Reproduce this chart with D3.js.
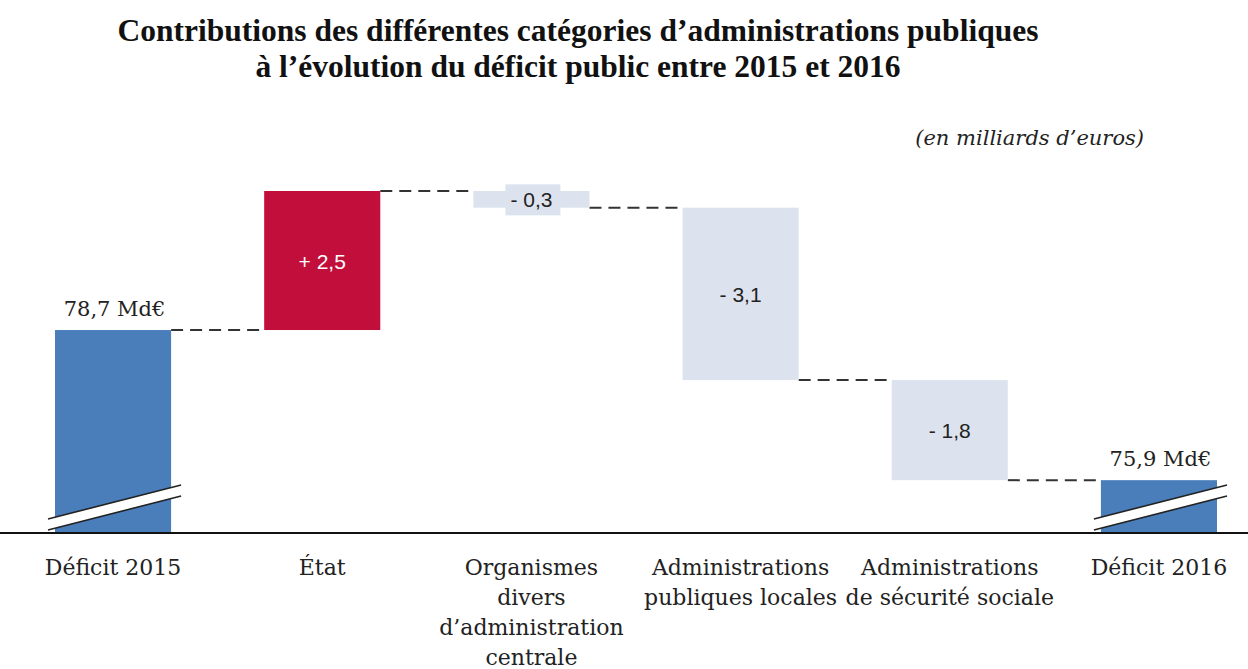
<!DOCTYPE html>
<html>
<head>
<meta charset="utf-8">
<script src="https://cdn.jsdelivr.net/npm/d3@7"></script>
<style>
  body { margin: 0; background: #fff; }
  svg { display: block; }
</style>
</head>
<body>
<svg width="1248" height="669"></svg>
<script>
// categories (label lines) and waterfall values
const categories = [
  ["Déficit 2015"],
  ["État"],
  ["Organismes", "divers", "d\u2019administration", "centrale"],
  ["Administrations", "publiques locales"],
  ["Administrations", "de sécurité sociale"],
  ["Déficit 2016"]
];
const startValue = 78.7;
const changes = [2.5, -0.3, -3.1, -1.8];
const changeLabels = ["+ 2,5", "- 0,3", "- 3,1", "- 1,8"];
const totalLabels = ["78,7 Md\u20ac", "75,9 Md\u20ac"];
const axisMin = 75.05;   // broken axis: bars are cut below this

const colTotal = "#4a7ebb", colUp = "#c20e3a", colDown = "#dde3ee";

const svg = d3.select("svg");
const W = 1248, H = 669, baseY = 533;

// build waterfall rows
let rows = [];
let level = startValue;
rows.push({ i: 0, y0: axisMin, y1: startValue, type: "total", label: totalLabels[0] });
changes.forEach((c, k) => {
  let next = level + c;
  rows.push({ i: k + 1, y0: level, y1: next, type: c > 0 ? "up" : "down", label: changeLabels[k] });
  level = next;
});
rows.push({ i: 5, y0: axisMin, y1: level, type: "total", label: totalLabels[1] });

const x = d3.scaleBand().domain(d3.range(categories.length))
  .range([55, 1217]).paddingInner(0.445).paddingOuter(0);
const y = d3.scaleLinear().domain([axisMin, 81.2]).range([baseY, 191]);
const bw = x.bandwidth();

// title
const title = svg.append("text").attr("x", 578).attr("text-anchor", "middle")
  .style("font-family", "'Liberation Serif', serif").style("font-weight", "bold")
  .style("font-size", "31.5px").attr("fill", "#111");
title.append("tspan").attr("x", 578).attr("y", 41)
  .text("Contributions des différentes catégories d\u2019administrations publiques");
title.append("tspan").attr("x", 578).attr("y", 77)
  .text("à l\u2019évolution du déficit public entre 2015 et 2016");

svg.append("text").attr("x", 1144).attr("y", 145).attr("text-anchor", "end")
  .style("font-family", "'DejaVu Serif', serif").style("font-style", "italic")
  .style("font-size", "21px").attr("fill", "#222")
  .text("(en milliards d\u2019euros)");

// connectors
for (let k = 0; k < rows.length - 1; k++) {
  const lv = rows[k].y1;
  svg.append("line")
    .attr("x1", x(k) + bw).attr("x2", x(k + 1))
    .attr("y1", y(lv)).attr("y2", y(lv))
    .attr("stroke", "#333").attr("stroke-width", 2)
    .attr("stroke-dasharray", "12,7");
}

// bars
svg.selectAll("rect.bar").data(rows).join("rect")
  .attr("class", "bar")
  .attr("x", d => x(d.i))
  .attr("width", bw)
  .attr("y", d => y(Math.max(d.y0, d.y1)))
  .attr("height", d => Math.abs(y(d.y0) - y(d.y1)))
  .attr("fill", d => d.type == "total" ? colTotal : d.type == "up" ? colUp : colDown);

// break marks on total bars
rows.filter(d => d.type == "total").forEach(d => {
  const xl = x(d.i) - 7, xr = x(d.i) + bw + 10;
  const g = svg.append("g");
  g.append("polygon")
    .attr("points", [[xl, baseY - 14], [xr, baseY - 48], [xr, baseY - 37], [xl, baseY - 3]].join(" "))
    .attr("fill", "#fff");
  g.append("line").attr("x1", xl).attr("y1", baseY - 14).attr("x2", xr).attr("y2", baseY - 48)
    .attr("stroke", "#222").attr("stroke-width", 1.6);
  g.append("line").attr("x1", xl).attr("y1", baseY - 3).attr("x2", xr).attr("y2", baseY - 37)
    .attr("stroke", "#222").attr("stroke-width", 1.6);
});

// axis line
svg.append("line").attr("x1", 0).attr("x2", W).attr("y1", baseY).attr("y2", baseY)
  .attr("stroke", "#111").attr("stroke-width", 2);

// value labels for changes
rows.filter(d => d.type != "total").forEach(d => {
  const cx = x(d.i) + bw / 2;
  const cy = (y(d.y0) + y(d.y1)) / 2;
  if (Math.abs(y(d.y0) - y(d.y1)) < 30) {
    svg.append("rect").attr("x", cx - 26).attr("y", cy - 15)
      .attr("width", 55).attr("height", 31).attr("fill", colDown);
  }
  svg.append("text").attr("x", cx).attr("y", cy + 8).attr("text-anchor", "middle")
    .style("font-family", "'Liberation Sans', Arial, sans-serif").style("font-size", "21px")
    .attr("fill", d.type == "up" ? "#fff" : "#222").text(d.label);
});

// total labels
rows.filter(d => d.type == "total").forEach(d => {
  svg.append("text").attr("x", x(d.i) + bw / 2 + 1.5).attr("y", y(d.y1) - 14)
    .attr("text-anchor", "middle")
    .style("font-family", "'DejaVu Serif', serif").style("font-size", "21px")
    .attr("fill", "#222").text(d.label);
});

// category labels
categories.forEach((lines, i) => {
  const t = svg.append("text").attr("text-anchor", "middle")
    .style("font-family", "'DejaVu Serif', serif").style("font-size", "22px")
    .attr("fill", "#222");
  lines.forEach((s, j) => {
    t.append("tspan").attr("x", x(i) + bw / 2).attr("y", 575 + j * 30).text(s);
  });
});
</script>
</body>
</html>
